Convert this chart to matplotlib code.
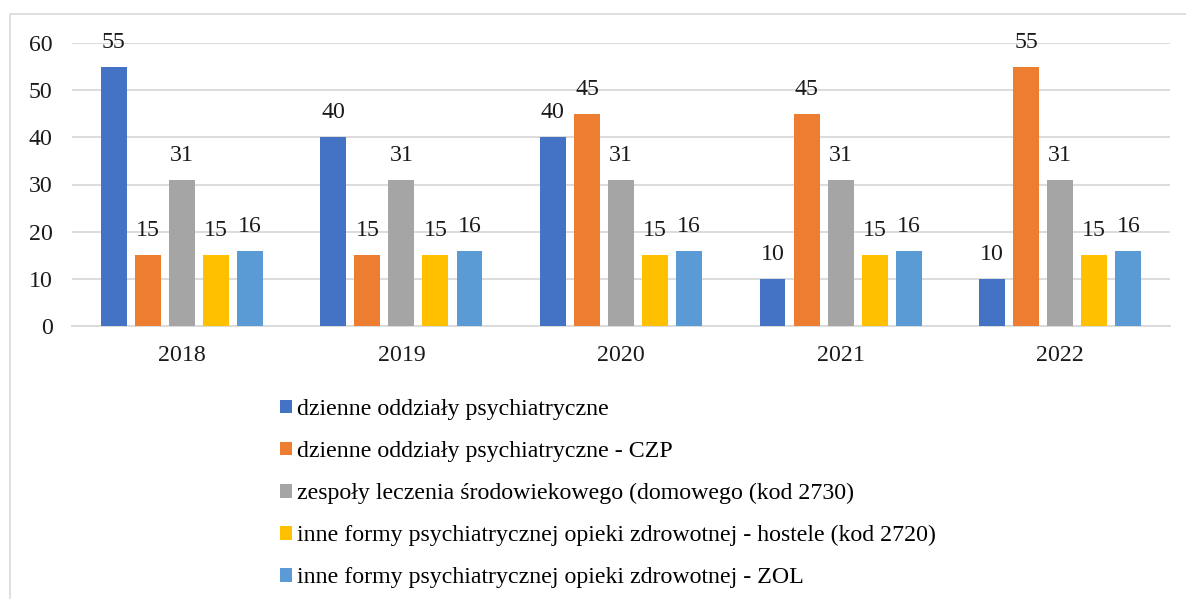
import numpy as np
import matplotlib
matplotlib.use("Agg")
import matplotlib.pyplot as plt
from matplotlib.patches import Rectangle, Patch

plt.rcParams['font.family'] = ['Liberation Serif', 'DejaVu Serif']

years = ["2018", "2019", "2020", "2021", "2022"]
series_names = [
    "dzienne oddziały psychiatryczne",
    "dzienne oddziały psychiatryczne - CZP",
    "zespoły leczenia środowiekowego (domowego (kod 2730)",
    "inne formy psychiatrycznej opieki zdrowotnej - hostele (kod 2720)",
    "inne formy psychiatrycznej opieki zdrowotnej - ZOL",
]
dzienne = [55, 40, 40, 10, 10]
dzienne_czp = [15, 15, 45, 45, 55]
zespoly = [31, 31, 31, 31, 31]
hostele = [15, 15, 15, 15, 15]
zol = [16, 16, 16, 16, 16]
colors = ["#4472C4", "#ED7D31", "#A5A5A5", "#FFC000", "#5B9BD5"]

W, H = 1186, 599
FS = 17.2
fig = plt.figure(figsize=(W / 100, H / 100), dpi=100)
ax = fig.add_axes([72 / W, 1 - 326 / H, (1170 - 72) / W, (326 - 43) / H])

# light frame around the chart (cut off on the right / bottom)
fig.patches.append(Rectangle((10 / W, -0.1), 1.2, 1 - 14 / H + 0.1, transform=fig.transFigure,
                             fill=False, edgecolor="#d9d9d9", linewidth=1.2))

x = np.arange(len(years))
pitch = 0.155
width = 0.118
all_series = [dzienne, dzienne_czp, zespoly, hostele, zol]
handles = []
for i, vals in enumerate(all_series):
    pos = x + (i - 2) * pitch
    bars = ax.bar(pos, vals, width=width, color=colors[i], zorder=3)
    for b, v in zip(bars, vals):
        ax.text(b.get_x() + b.get_width() / 2, v + 5.2, str(v), ha="center", va="center",
                fontsize=FS, color="#1a1a1a", clip_on=False)
    handles.append(Patch(facecolor=colors[i], edgecolor="none"))

ax.set_xlim(-0.5, 4.5)
ax.set_ylim(0, 60)
ax.set_yticks(range(0, 61, 10))
ax.set_xticks(x)
ax.set_xticklabels(years)
ax.yaxis.grid(True, color="#d9d9d9", linewidth=1.3, zorder=0)
ax.set_axisbelow(True)
for s in ["top", "right", "left"]:
    ax.spines[s].set_visible(False)
ax.spines["bottom"].set_color("#d9d9d9")
ax.spines["bottom"].set_linewidth(1.3)
ax.tick_params(axis="both", length=0, labelsize=FS, colors="#1a1a1a")
ax.tick_params(axis="y", pad=14)
ax.tick_params(axis="x", pad=14)

fig.legend(handles, series_names, loc="upper left", bbox_to_anchor=(280 / W, 1 - 399 / H),
           frameon=False, fontsize=FS, handlelength=0.5, handleheight=0.5,
           handletextpad=0.2, labelspacing=0.88, borderaxespad=0, borderpad=0)

fig.savefig("out.png", dpi=100)
